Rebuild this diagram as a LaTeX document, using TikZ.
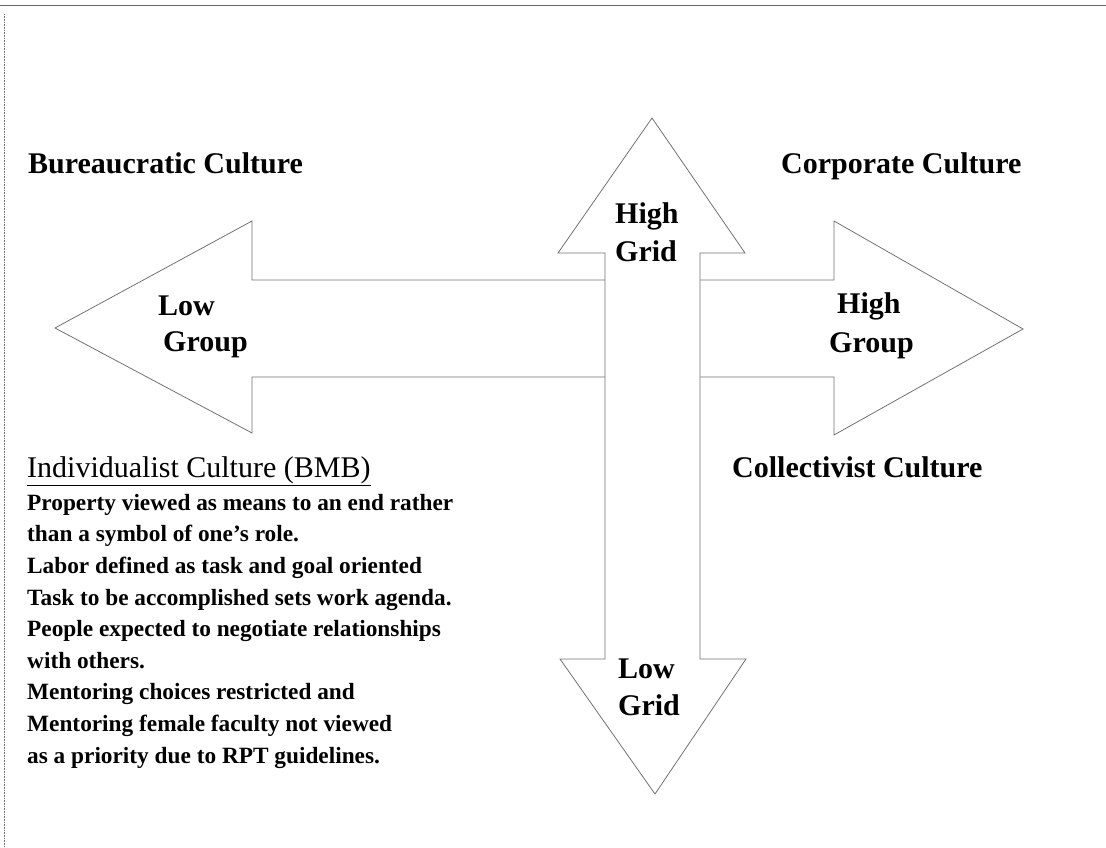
\documentclass[tikz,border=0pt]{standalone}
\usepackage{fontspec}
\setmainfont{Liberation Serif}
\begin{document}
\begin{tikzpicture}[x=1pt,y=-1pt,
  outline/.style={draw=black!55,line width=0.8pt,fill=white,line join=miter},
  head/.style={font=\bfseries\fontsize{30}{36}\selectfont,inner sep=0pt,anchor=base west},
  axislabel/.style={font=\bfseries\fontsize{30}{36}\selectfont,inner sep=0pt,anchor=base west},
  body/.style={font=\bfseries\fontsize{23.3}{31.6}\selectfont,inner sep=0pt,align=left,anchor=base west}]
\useasboundingbox (0,0) rectangle (1106,848);

% page edges
\draw[black!60,line width=0.7pt] (0,5) -- (1106,5);
\draw[black!55,line width=0.6pt,densely dotted] (4,14) -- (4,848);

% horizontal double arrow (group axis)
\draw[outline] (55,328) -- (252,221) -- (252,280) -- (834,280) -- (834,221)
  -- (1023,329) -- (834,435) -- (834,377) -- (252,377) -- (252,433) -- cycle;

% vertical double arrow (grid axis), on top
\draw[outline] (652,118) -- (745,253) -- (700,253) -- (700,659) -- (746,659)
  -- (655,794) -- (560,659) -- (605,659) -- (605,253) -- (558,253) -- cycle;

% quadrant titles
\node[head] (bur) at (28,173) {Bureaucratic Culture};
\node[head] (cor) at (781,174) {Corporate Culture};
\node[head] (col) at (732,477) {Collectivist Culture};

% axis labels
\node[axislabel] (lg1) at (158,315) {Low};
\node[axislabel] (lg2) at (163,351) {Group};
\node[axislabel] (hgr1) at (615,223) {High};
\node[axislabel] (hgr2) at (615,261) {Grid};
\node[axislabel] (hg1) at (837,313) {High};
\node[axislabel] (hg2) at (829,352) {Group};
\node[axislabel] (lgr1) at (618,678) {Low};
\node[axislabel] (lgr2) at (618,715) {Grid};

% individualist quadrant (base anchor of the list sits on its last line)
\node[inner sep=0pt,anchor=base west,font=\fontsize{30}{36}\selectfont] (ind) at (27,477)
  {\underline{Individualist Culture (BMB)}};
\node[body] (desc) at (27,763) {Property viewed as means to an end rather\\
than a symbol of one’s role.\\
Labor defined as task and goal oriented\\
Task to be accomplished sets work agenda.\\
People expected to negotiate relationships\\
with others.\\
Mentoring choices restricted and\\
Mentoring female faculty not viewed\\
as a priority due to RPT guidelines.};
\end{tikzpicture}
\end{document}
